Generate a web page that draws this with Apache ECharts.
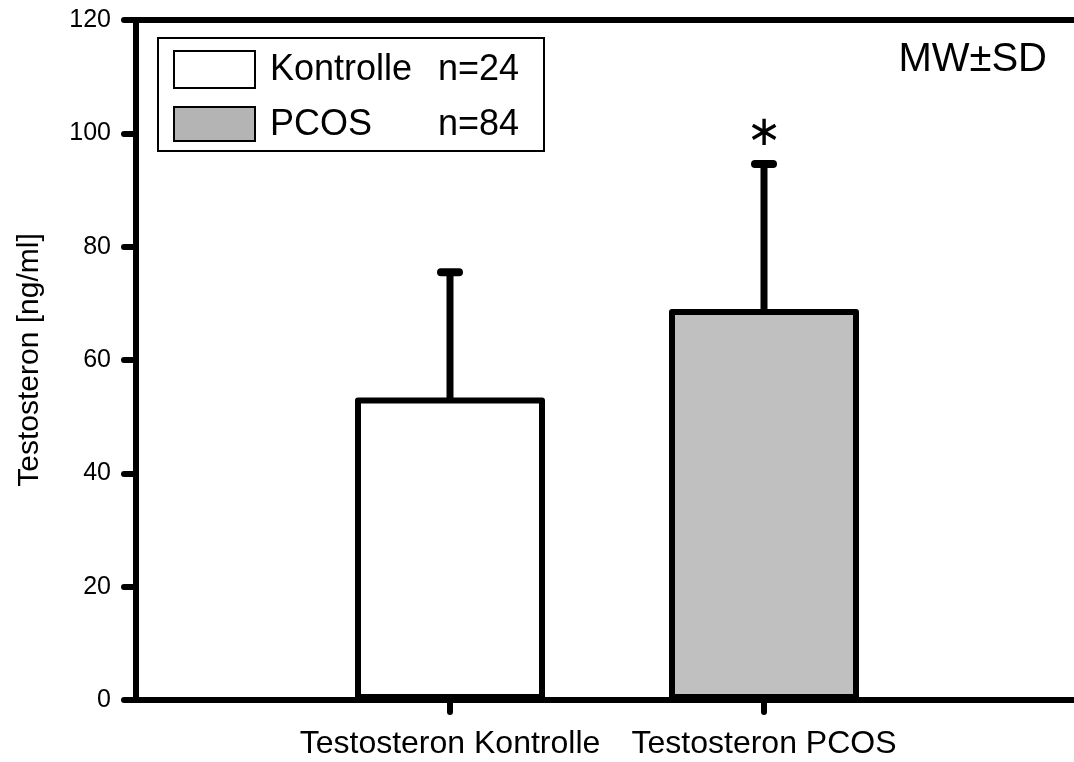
<!DOCTYPE html>
<html>
<head>
<meta charset="utf-8">
<script src="https://cdn.jsdelivr.net/npm/echarts@6/dist/echarts.min.js"></script>
<style>
html,body{margin:0;padding:0;background:#fff;}
#main{width:1074px;height:762px;}
</style>
</head>
<body>
<div id="main"></div>
<script>
// data
var categories = ['', 'Testosteron Kontrolle', 'Testosteron PCOS', ''];
var means = [null, 53.4, 69.0, null];
var sds = [null, 22.1, 25.6, null];
var marks = ['', '', '\u2217', ''];
var barColors = ['#ffffff', '#ffffff', '#c0c0c0', '#ffffff'];
var legendNames = ['Kontrolle', 'PCOS'];
var legendCounts = ['n=24', 'n=84'];
var legendColors = ['#ffffff', '#b4b4b4'];
var yMin = 0, yMax = 120, yStep = 20;
var noteText = 'MW\u00b1SD';

var FONT = '"Liberation Sans", Arial, sans-serif';

var chart = echarts.init(document.getElementById('main'));

var barData = means.map(function(v, i){
    return v == null ? null : {value: v, itemStyle: {color: barColors[i]}};
});
var errRows = [];
means.forEach(function(v, i){
    if (v != null) errRows.push([i, v, sds[i], marks[i]]);
});

function renderErr(params, api){
    var row = errRows[params.dataIndex];
    var base = api.coord([row[0], row[1]]);
    var top = api.coord([row[0], row[1] + row[2]]);
    var kids = [
        {type: 'line', shape: {x1: base[0], y1: base[1] + 3, x2: top[0], y2: top[1]},
         style: {stroke: '#000', lineWidth: 7}},
        {type: 'line', shape: {x1: top[0] - 9, y1: top[1], x2: top[0] + 9, y2: top[1]},
         style: {stroke: '#000', lineWidth: 8, lineCap: 'round'}}
    ];
    if (row[3]) {
        kids.push({type: 'text', x: top[0], y: top[1] - 30,
            style: {text: row[3], font: '42px "DejaVu Sans"', fill: '#000',
                    textAlign: 'center', textVerticalAlign: 'middle'}});
    }
    return {type: 'group', children: kids};
}

var legendItems = [{type: 'rect', shape: {x: 158, y: 38, width: 386, height: 113},
    style: {fill: '#fff', stroke: '#000', lineWidth: 2}}];
legendNames.forEach(function(n, i){
    var y0 = i === 0 ? 51 : 107;
    var h = i === 0 ? 37 : 34;
    legendItems.push({type: 'rect', shape: {x: 174, y: y0, width: 81, height: h},
        style: {fill: legendColors[i], stroke: '#000', lineWidth: 2}});
    legendItems.push({type: 'text', x: 270, y: y0 + h / 2 + 1,
        style: {text: n, font: '36px ' + FONT, fill: '#000', textVerticalAlign: 'middle'}});
    legendItems.push({type: 'text', x: 438, y: y0 + h / 2 + 1,
        style: {text: legendCounts[i], font: '36px ' + FONT, fill: '#000', textVerticalAlign: 'middle'}});
});
legendItems.push({type: 'text', right: 27, top: 40,
    style: {text: noteText, font: '40px ' + FONT, fill: '#000'}});

var option = {
    backgroundColor: '#fff',
    animation: false,
    grid: {left: 136, width: 942, top: 20, bottom: 62, outerBoundsMode: 'none'},
    xAxis: [{
        type: 'category',
        data: categories,
        boundaryGap: false,
        axisLine: {lineStyle: {color: '#000', width: 6}},
        axisTick: {
            length: 12,
            interval: function(i){ return i === 1 || i === 2; },
            lineStyle: {color: '#000', width: 6, cap: 'round'}
        },
        axisLabel: {interval: 0, color: '#000', fontSize: 32, fontFamily: FONT, margin: 28},
        splitLine: {show: false}
    }, {
        type: 'category',
        data: categories,
        boundaryGap: false,
        position: 'top',
        axisLine: {lineStyle: {color: '#000', width: 6}},
        axisTick: {show: false},
        axisLabel: {show: false}
    }],
    yAxis: {
        type: 'value',
        min: yMin, max: yMax, interval: yStep,
        name: 'Testosteron [ng/ml]',
        nameLocation: 'middle',
        nameRotate: 90,
        nameGap: 91,
        nameTextStyle: {color: '#000', fontSize: 30, fontFamily: FONT},
        axisLine: {show: true, lineStyle: {color: '#000', width: 6}},
        axisTick: {show: true, length: 12, lineStyle: {color: '#000', width: 6, cap: 'round'}},
        axisLabel: {color: '#000', fontSize: 25, fontFamily: FONT, margin: 25},
        splitLine: {show: false}
    },
    series: [{
        type: 'bar',
        data: barData,
        barWidth: 190,
        itemStyle: {borderColor: '#000', borderWidth: 6, borderJoin: 'round'},
        z: 3
    }, {
        type: 'custom',
        data: errRows.map(function(r){ return [r[0], r[1], r[2]]; }),
        renderItem: renderErr,
        clip: false,
        z: 2
    }],
    graphic: legendItems
};
chart.setOption(option);
</script>
</body>
</html>
